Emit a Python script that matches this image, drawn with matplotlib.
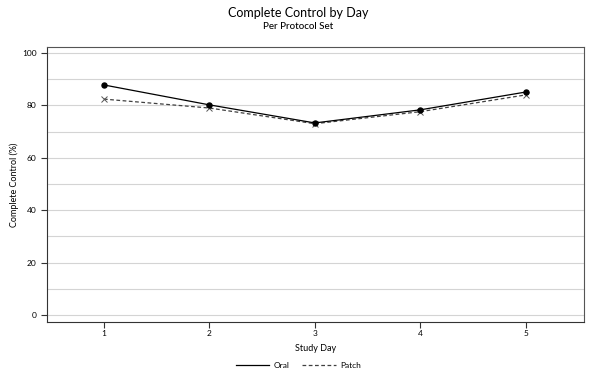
import numpy as np
from matplotlib import pyplot as plt

plt.rcParams['font.family'] = ['Lato', 'DejaVu Sans']

days = [1, 2, 3, 4, 5]
oral = [87.8, 80.2, 73.3, 78.3, 85.1]
patch = [82.4, 79.0, 73.0, 77.6, 84.0]

fig = plt.figure(figsize=(5.97, 3.72), dpi=100)
ax = fig.add_axes([0.0787, 0.1344, 0.899, 0.7393])

ax.set_yticks(np.arange(10, 100, 10), minor=True)
ax.grid(True, which='both', axis='y', color='#d4d4d4', linewidth=0.8)
ax.set_axisbelow(True)

ax.plot(days, oral, color='black', linewidth=0.9, marker='o', markersize=3.6, label='Oral', zorder=3)
ax.plot(days, patch, color='#404040', linewidth=0.9, linestyle=(0, (3, 2)), marker='x',
        markersize=4, markeredgewidth=0.7, markeredgecolor='#555555', label='Patch', zorder=2)

ax.set_xlim(0.46, 5.55)
ax.set_ylim(-2.7, 102.3)
ax.set_xticks(days)
ax.set_yticks(np.arange(0, 101, 20))
ax.tick_params(axis='both', which='major', labelsize=6, length=4, width=0.8, color='#333333')
ax.tick_params(axis='x', which='major', pad=2)
ax.tick_params(axis='y', which='minor', length=0)
for sp in ax.spines.values():
    sp.set_linewidth(0.8)
    sp.set_color('#555555')
ax.spines['left'].set_color('#333333')
ax.spines['bottom'].set_color('#333333')

ax.set_xlabel('Study Day', fontsize=6.5, labelpad=5)
ax.set_ylabel('Complete Control (%)', fontsize=6.5, labelpad=2)

fig.text(0.5, 0.965, 'Complete Control by Day', ha='center', va='center', fontsize=9)
fig.text(0.5, 0.928, 'Per Protocol Set', ha='center', va='center', fontsize=7, fontweight='medium')

fig.legend(loc='lower center', bbox_to_anchor=(0.5, -0.012), ncol=2, frameon=False,
           fontsize=6, handlelength=4, columnspacing=1.5, handletextpad=0.6)
# legend shows lines only
leg = fig.legends[0]
for h in leg.legend_handles:
    h.set_marker('')

fig.savefig('out.png', dpi=100)
